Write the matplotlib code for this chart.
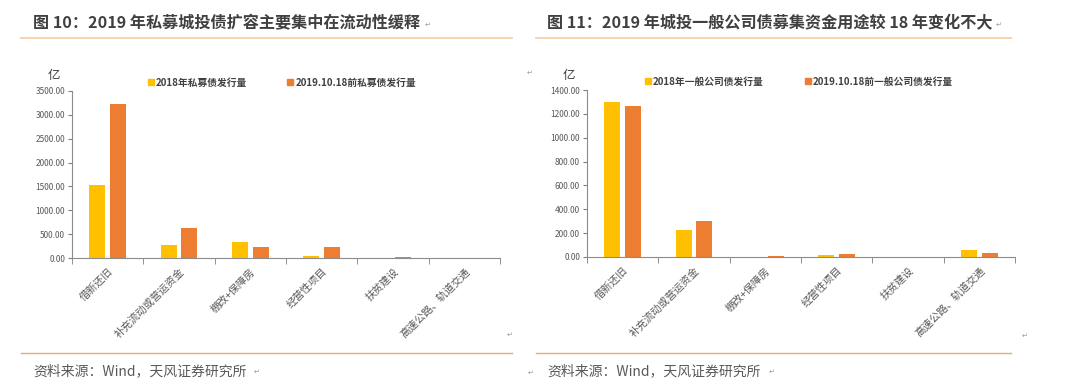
import matplotlib
matplotlib.use("Agg")
import matplotlib.pyplot as plt
import numpy as np
from matplotlib.lines import Line2D

plt.rcParams['font.family'] = ['Noto Sans CJK SC', 'DejaVu Sans']

categories = ["借新还旧", "补充流动或营运资金", "棚改+保障房", "经营性项目", "扶贫建设", "高速公路、轨道交通"]

# 图10 私募债
private_2018 = [1530, 272, 330, 35, 0, 0]
private_2019 = [3232, 622, 230, 238, 15, 4]
private_names = ["2018年私募债发行量", "2019.10.18前私募债发行量"]
private_ticks = [0, 500, 1000, 1500, 2000, 2500, 3000, 3500]

# 图11 一般公司债
public_2018 = [1302, 230, 0, 20, 0, 62]
public_2019 = [1268, 298, 12, 22, 0, 37]
public_names = ["2018年一般公司债发行量", "2019.10.18前一般公司债发行量"]
public_ticks = [0, 200, 400, 600, 800, 1000, 1200, 1400]

titles = ["图 10：2019 年私募城投债扩容主要集中在流动性缓释",
          "图 11：2019 年城投一般公司债募集资金用途较 18 年变化不大"]
source = "资料来源：Wind，天风证券研究所"

YELLOW = "#FFC000"
ORANGE = "#ED7D31"
W, H = 1080, 388

fig = plt.figure(figsize=(W / 100, H / 100), dpi=100)


def px_axes(x0, x1, ytop, ybot):
    return fig.add_axes([x0 / W, 1 - ybot / H, (x1 - x0) / W, (ybot - ytop) / H])


def draw_chart(ax, a, b, ticks, names, legend_x):
    x = np.arange(len(categories))
    ax.bar(x - 0.145, a, width=0.225, color=YELLOW)
    ax.bar(x + 0.145, b, width=0.225, color=ORANGE)
    ax.set_xlim(-0.5, len(categories) - 0.5)
    ax.set_ylim(0, ticks[-1])
    ax.set_yticks(ticks)
    ax.set_yticklabels(["%.2f" % t for t in ticks], fontsize=6, color="#595959")
    ax.set_xticks(x)
    ax.set_xticklabels(categories, rotation=45, ha="right", rotation_mode="anchor",
                       fontsize=7.5, color="#595959")
    ax.tick_params(axis="x", which="major", length=0, pad=6)
    ax.set_xticks(np.arange(-0.5, len(categories)), minor=True)
    ax.tick_params(axis="x", which="minor", length=4, color="#7f7f7f")
    ax.tick_params(axis="y", length=3, color="#7f7f7f", pad=2)
    for s in ["top", "right"]:
        ax.spines[s].set_visible(False)
    for s in ["left", "bottom"]:
        ax.spines[s].set_color("#8c8c8c")
        ax.spines[s].set_linewidth(0.8)
    handles = [Line2D([], [], marker="s", ls="", color=YELLOW, markersize=4),
               Line2D([], [], marker="s", ls="", color=ORANGE, markersize=4)]
    leg = ax.legend(handles, names, ncol=2, frameon=False, loc="center",
                    bbox_to_anchor=(legend_x, 1.05), fontsize=7,
                    handlelength=0.6, handletextpad=0.2, columnspacing=4.2)
    for t in leg.get_texts():
        t.set_color("#404040")
        t.set_fontweight("bold")


ax1 = px_axes(72, 500, 91, 258)
draw_chart(ax1, private_2018, private_2019, private_ticks, private_names, 0.49)
ax2 = px_axes(587, 1015, 90, 257)
draw_chart(ax2, public_2018, public_2019, public_ticks, public_names, 0.495)

# units
fig.text(48 / W, 1 - 75 / H, "亿", fontsize=9, color="#404040", va="center")
fig.text(563 / W, 1 - 75 / H, "亿", fontsize=9, color="#404040", va="center")

# titles and rules
line_col_top = "#F8CBA0"
line_col_bot = "#E0B070"
fig.text(33 / W, 1 - 23 / H, titles[0], fontsize=11.6, fontweight="bold", color="#404040", va="center")
fig.text(547 / W, 1 - 23 / H, titles[1], fontsize=11.6, fontweight="bold", color="#404040", va="center")
fig.text(425 / W, 1 - 25 / H, "↵", fontsize=5, color="#999999", va="center")
fig.text(996 / W, 1 - 25 / H, "↵", fontsize=5, color="#999999", va="center")
fig.add_artist(Line2D([21 / W, 512 / W], [1 - 38 / H] * 2, color=line_col_top, lw=1.2))
fig.add_artist(Line2D([536 / W, 1011 / W], [1 - 38 / H] * 2, color=line_col_top, lw=1.2))
fig.add_artist(Line2D([21 / W, 512 / W], [1 - 353 / H] * 2, color=line_col_bot, lw=1.0))
fig.add_artist(Line2D([536 / W, 1011 / W], [1 - 353 / H] * 2, color=line_col_bot, lw=1.0))

# sources
fig.text(33 / W, 1 - 371 / H, source, fontsize=10, color="#595959", va="center")
fig.text(547 / W, 1 - 371 / H, source, fontsize=10, color="#595959", va="center")
fig.text(254 / W, 1 - 372 / H, "↵", fontsize=5, color="#999999", va="center")
fig.text(769 / W, 1 - 372 / H, "↵", fontsize=5, color="#999999", va="center")
fig.text(528 / W, 1 - 373 / H, "↵", fontsize=5, color="#999999", va="center")
fig.text(507 / W, 1 - 335 / H, "↵", fontsize=5, color="#999999", va="center")
fig.text(1022 / W, 1 - 336 / H, "↵", fontsize=5, color="#999999", va="center")
fig.text(527 / W, 1 - 73 / H, "↵", fontsize=5, color="#999999", va="center")

fig.savefig("out.png", dpi=100, facecolor="white")
